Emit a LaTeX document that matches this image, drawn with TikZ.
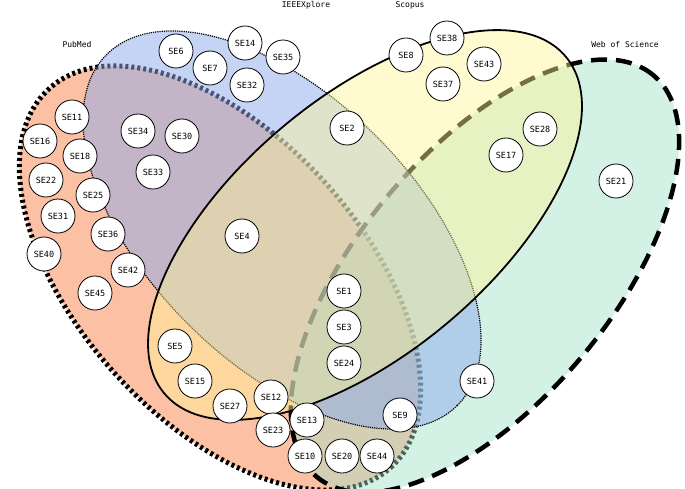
\documentclass[tikz,border=0pt]{standalone}
\usepackage{fontspec}
\setmonofont{DejaVu Sans Mono}
\begin{document}
\begin{tikzpicture}[x=1pt,y=1pt,
  se/.style={circle, draw=black, fill=white, line width=0.8pt, minimum size=34pt, inner sep=0pt, font=\ttfamily\fontsize{8.5}{9}\selectfont},
  dbname/.style={font=\ttfamily\fontsize{8}{9}\selectfont}]
	\useasboundingbox (0,0) rectangle (685,-489);
	% sets
	\draw[fill={rgb,255:red,250;green,140;blue,90}, fill opacity=.55, line width=5pt, dash pattern=on 3pt off 3pt, rotate around={-48:(220,-278)}] (220,-278) ellipse [x radius=255, y radius=142];
	\draw[fill={rgb,255:red,160;green,225;blue,200}, fill opacity=.45, line width=4.5pt, dash pattern=on 16pt off 9pt, rotate around={50:(485,-276)}] (485,-276) ellipse [x radius=262, y radius=126];
	\draw[fill={rgb,255:red,140;green,170;blue,235}, fill opacity=.5, line width=1.2pt, densely dotted, rotate around={-45:(282,-230)}] (282,-230) ellipse [x radius=248, y radius=133];
	\draw[fill={rgb,255:red,255;green,245;blue,150}, fill opacity=.45, line width=1.8pt, rotate around={40:(365,-225)}] (365,-225) ellipse [x radius=262, y radius=128];

	\node[dbname] (PM) at (77,-45) {PubMed};
	\node[dbname] (IE) at (306,-5) {IEEEXplore};
	\node[dbname] (SC) at (410,-5) {Scopus};
	\node[dbname] (WS) at (625,-45) {Web of Science};

	% studies
	\node[se] (SE11) at (72,-117) {SE11};
	\node[se] (SE16) at (40,-141) {SE16};
	\node[se] (SE18) at (80,-156) {SE18};
	\node[se] (SE22) at (46,-180) {SE22};
	\node[se] (SE25) at (93,-195) {SE25};
	\node[se] (SE31) at (58,-216) {SE31};
	\node[se] (SE36) at (108,-234) {SE36};
	\node[se] (SE40) at (44,-254) {SE40};
	\node[se] (SE42) at (128,-270) {SE42};
	\node[se] (SE45) at (95,-293) {SE45};
	\node[se] (SE6) at (176,-51) {SE6};
	\node[se] (SE14) at (245,-43) {SE14};
	\node[se] (SE7) at (210,-68) {SE7};
	\node[se] (SE35) at (283,-57) {SE35};
	\node[se] (SE32) at (247,-85) {SE32};
	\node[se] (SE34) at (138,-131) {SE34};
	\node[se] (SE30) at (182,-136) {SE30};
	\node[se] (SE33) at (153,-172) {SE33};
	\node[se] (SE2) at (347,-128) {SE2};
	\node[se] (SE8) at (406,-55) {SE8};
	\node[se] (SE38) at (447,-38) {SE38};
	\node[se] (SE43) at (484,-64) {SE43};
	\node[se] (SE37) at (443,-84) {SE37};
	\node[se] (SE28) at (540,-129) {SE28};
	\node[se] (SE17) at (506,-155) {SE17};
	\node[se] (SE21) at (616,-181) {SE21};
	\node[se] (SE4) at (242,-236) {SE4};
	\node[se] (SE1) at (344,-291) {SE1};
	\node[se] (SE3) at (344,-327) {SE3};
	\node[se] (SE24) at (344,-363) {SE24};
	\node[se] (SE5) at (175,-346) {SE5};
	\node[se] (SE15) at (195,-381) {SE15};
	\node[se] (SE27) at (230,-406) {SE27};
	\node[se] (SE12) at (271,-397) {SE12};
	\node[se] (SE23) at (273,-430) {SE23};
	\node[se] (SE13) at (307,-420) {SE13};
	\node[se] (SE9) at (400,-415) {SE9};
	\node[se] (SE41) at (477,-381) {SE41};
	\node[se] (SE10) at (305,-456) {SE10};
	\node[se] (SE20) at (342,-456) {SE20};
	\node[se] (SE44) at (377,-456) {SE44};
\end{tikzpicture}
\end{document}
